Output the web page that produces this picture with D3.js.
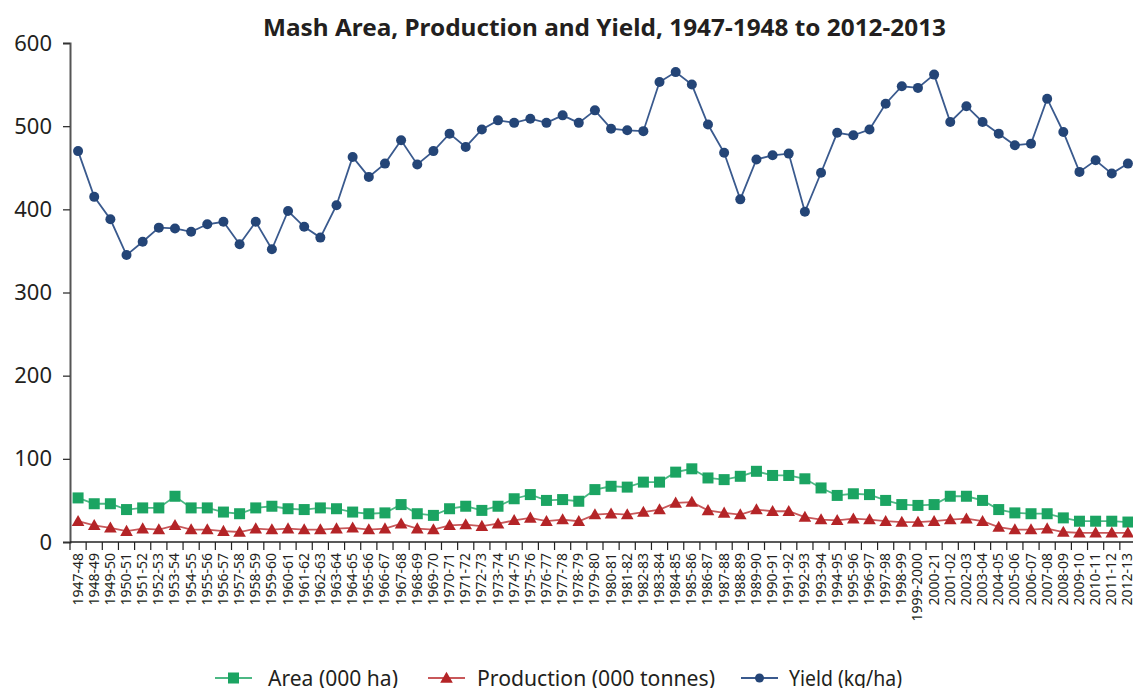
<!DOCTYPE html>
<html>
<head>
<meta charset="utf-8">
<script src="https://cdn.jsdelivr.net/npm/d3@7"></script>
<style>
  body { margin: 0; background: #fff; }
  svg { display: block; font-family: "Noto Sans", sans-serif; }
</style>
</head>
<body>
<div id="chart"></div>
<script>
const width = 1133;
const height = 688;

const years = ["1947-48","1948-49","1949-50","1950-51","1951-52","1952-53","1953-54","1954-55","1955-56","1956-57",
  "1957-58","1958-59","1959-60","1960-61","1961-62","1962-63","1963-64","1964-65","1965-66","1966-67",
  "1967-68","1968-69","1969-70","1970-71","1971-72","1972-73","1973-74","1974-75","1975-76","1976-77",
  "1977-78","1978-79","1979-80","1980-81","1981-82","1982-83","1983-84","1984-85","1985-86","1986-87",
  "1987-88","1988-89","1989-90","1990-91","1991-92","1992-93","1993-94","1994-95","1995-96","1996-97",
  "1997-98","1998-99","1999-2000","2000-21","2001-02","2002-03","2003-04","2004-05","2005-06","2006-07",
  "2007-08","2008-09","2009-10","2010-11","2011-12","2012-13"];

const area = [53,46,46,39,41,41,55,41,41,36,
  34,41,43,40,39,41,40,36,34,35,
  45,34,32,40,43,38,43,52,57,50,
  51,49,63,67,66,72,72,84,88,77,
  75,79,85,80,80,76,65,56,58,57,
  50,45,44,45,55,55,50,39,35,34,
  34,29,25,25,25,24];

const production = [25,20,17,13,16,15,20,15,15,13,
  12,16,15,16,15,15,16,17,15,16,
  22,16,15,20,21,19,22,26,29,25,
  27,25,33,34,33,36,39,47,48,38,
  35,33,39,37,37,30,27,26,28,27,
  25,24,24,25,27,28,25,18,15,15,
  16,12,11,11,11,11];

const yieldKg = [470,415,388,345,361,378,377,373,382,385,
  358,385,352,398,379,366,405,463,439,455,
  483,454,470,491,475,496,507,504,509,504,
  513,504,519,497,495,494,553,565,550,502,
  468,412,460,465,467,397,444,492,489,496,
  527,548,546,562,505,524,505,491,477,479,
  533,493,445,459,443,455];

const yTicks = [0,100,200,300,400,500,600];

const series = [
  { name: "Area (000 ha)", values: area, color: "#1ba462", line: "#4cb884", shape: "square" },
  { name: "Production (000 tonnes)", values: production, color: "#b42427", line: "#c8585a", shape: "triangle" },
  { name: "Yield (kg/ha)", values: yieldKg, color: "#244577", line: "#3a5a8e", shape: "circle" }
];

const plotLeft = 70, plotRight = 1136, plotTop = 43, plotBottom = 542;

const x = d3.scaleBand().domain(years).range([plotLeft, plotRight]);
const y = d3.scaleLinear().domain([0, 600]).range([plotBottom, plotTop]);

const svg = d3.select("#chart").append("svg")
  .attr("width", width)
  .attr("height", height);

svg.append("text")
  .attr("x", 263)
  .attr("y", 36)
  .attr("font-size", 23)
  .attr("font-weight", "bold")
  .attr("fill", "#231f20")
  .attr("textLength", 683)
  .attr("lengthAdjust", "spacingAndGlyphs")
  .text("Mash Area, Production and Yield, 1947-1948 to 2012-2013");

// y axis
const yAxis = svg.append("g")
  .attr("transform", `translate(${plotLeft},0)`)
  .call(d3.axisLeft(y).tickValues(yTicks).tickSize(7).tickPadding(11));
yAxis.select(".domain").attr("stroke", "#555").attr("stroke-width", 2);
yAxis.selectAll(".tick line").attr("stroke", "#333").attr("stroke-width", 1.3);
yAxis.selectAll(".tick text")
  .attr("font-size", 22)
  .attr("fill", "#231f20")
  .attr("font-family", "Noto Sans, sans-serif");

// x axis: ticks on band boundaries
const xg = svg.append("g").attr("transform", `translate(0,${plotBottom})`);
xg.append("line")
  .attr("x1", plotLeft).attr("x2", width)
  .attr("stroke", "#222").attr("stroke-width", 1.3);
const bounds = years.map(d => x(d)).concat([x(years[years.length - 1]) + x.bandwidth()]);
xg.selectAll("line.tk").data(bounds).join("line")
  .attr("class", "tk")
  .attr("x1", d => d).attr("x2", d => d)
  .attr("y1", 0).attr("y2", 8)
  .attr("stroke", "#222").attr("stroke-width", 1.2);
xg.selectAll("text").data(years).join("text")
  .attr("transform", d => `translate(${x(d) + x.bandwidth() / 2 + 4.5},11) rotate(-90)`)
  .attr("text-anchor", "end")
  .attr("font-size", 14)
  .attr("fill", "#231f20")
  .text(d => d);

const cx = i => x(years[i]) + x.bandwidth() / 2;

function drawMarker(g, shape, color, px, py, s) {
  if (shape === "square") {
    g.append("rect").attr("x", px - s).attr("y", py - s)
      .attr("width", 2 * s).attr("height", 2 * s).attr("fill", color);
  } else if (shape === "triangle") {
    const h = s * 1.15;
    g.append("path")
      .attr("d", `M${px},${py - h} L${px + h},${py + h * 0.75} L${px - h},${py + h * 0.75} Z`)
      .attr("fill", color);
  } else {
    g.append("circle").attr("cx", px).attr("cy", py).attr("r", s).attr("fill", color);
  }
}

const line = d3.line().x((d, i) => cx(i)).y(d => y(d));
const sizes = { square: 5.5, triangle: 5.5, circle: 5 };

series.forEach(s => {
  const g = svg.append("g");
  g.append("path")
    .attr("d", line(s.values))
    .attr("fill", "none")
    .attr("stroke", s.line)
    .attr("stroke-width", 1.8);
  s.values.forEach((v, i) => drawMarker(g, s.shape, s.color, cx(i), y(v), sizes[s.shape]));
});

// legend
const legendPos = [215, 428, 741];
const legendText = [268, 477, 789];
const legendWidth = [130, 238, 113];
const legendY = 678;
series.forEach((s, k) => {
  const g = svg.append("g");
  const lx = legendPos[k];
  g.append("line")
    .attr("x1", lx).attr("x2", lx + 37)
    .attr("y1", legendY).attr("y2", legendY)
    .attr("stroke", s.line).attr("stroke-width", 1.8);
  drawMarker(g, s.shape, s.color, lx + 18.5, legendY, s.shape === "circle" ? 4.5 : 5.5);
  g.append("text")
    .attr("x", legendText[k])
    .attr("y", legendY + 8)
    .attr("font-size", 21)
    .attr("fill", "#231f20")
    .attr("textLength", legendWidth[k])
    .attr("lengthAdjust", "spacingAndGlyphs")
    .text(s.name);
});
</script>
</body>
</html>
